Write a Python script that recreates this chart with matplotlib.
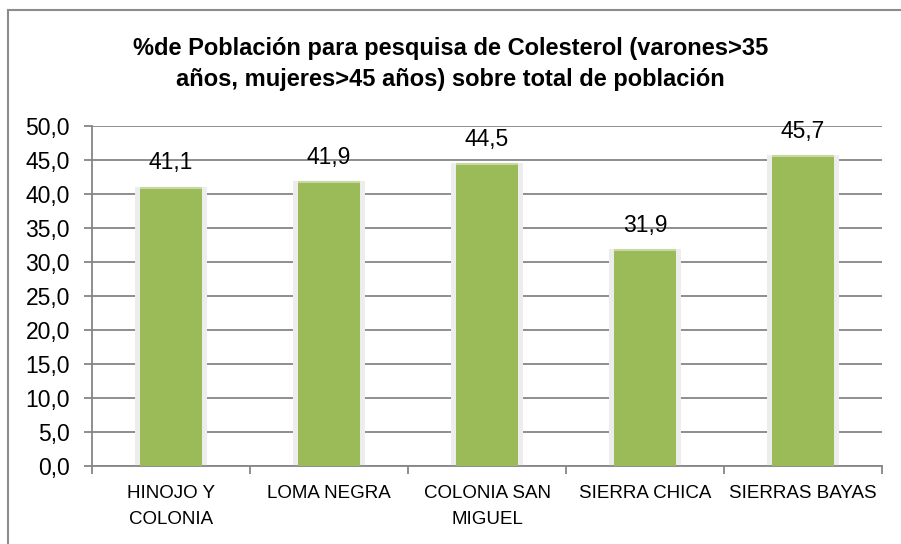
import matplotlib
matplotlib.use("Agg")
import matplotlib.pyplot as plt
from matplotlib.lines import Line2D

categories = ["HINOJO Y\nCOLONIA", "LOMA NEGRA", "COLONIA SAN\nMIGUEL", "SIERRA CHICA", "SIERRAS BAYAS"]
values = [41.1, 41.9, 44.5, 31.9, 45.7]
value_labels = ["41,1", "41,9", "44,5", "31,9", "45,7"]
yticks = [0, 5, 10, 15, 20, 25, 30, 35, 40, 45, 50]
ytick_labels = ["0,0", "5,0", "10,0", "15,0", "20,0", "25,0", "30,0", "35,0", "40,0", "45,0", "50,0"]
title = "%de Población para pesquisa de Colesterol (varones>35\naños, mujeres>45 años) sobre total de población"

plt.rcParams['font.family'] = ['Liberation Sans', 'DejaVu Sans']

W, H = 901, 544
fig = plt.figure(figsize=(W / 100, H / 100), dpi=100)
ax = fig.add_axes([92 / W, 1 - 466 / H, (882 - 92) / W, (466 - 126) / H])

grid_c = "#868686"
bar_c = "#9BBB59"
x = list(range(len(categories)))

# glow behind bars
ax.bar(x, values, width=0.45, color="#ededed", zorder=2)
ax.bar(x, values, width=0.39, color=bar_c, zorder=3, edgecolor="none")
# lighter top edge
for xi, v in zip(x, values):
    ax.plot([xi - 0.195, xi + 0.195], [v - 0.15, v - 0.15], color="#c5d9a0", lw=1.5, zorder=4,
            solid_capstyle="butt")

for xi, v, lab in zip(x, values, value_labels):
    ax.annotate(lab, (xi, v), xytext=(0, 9), textcoords="offset points",
                ha="center", va="bottom", fontsize=16.5, color="black")

ax.set_xlim(-0.5, len(categories) - 0.5)
ax.set_ylim(0, 50)
ax.set_yticks(yticks)
ax.set_yticklabels(ytick_labels, fontsize=16.5)
ax.yaxis.grid(True, color=grid_c, lw=1.3, zorder=1)
ax.set_axisbelow(True)

ax.set_xticks(x)
ax.set_xticklabels(categories, fontsize=13.5, linespacing=1.65, va="top")
ax.tick_params(axis="x", length=0, pad=14)
ax.tick_params(axis="y", length=6, width=1.3, color=grid_c, pad=10)
# minor ticks at category boundaries
ax.set_xticks([i - 0.5 for i in range(len(categories) + 1)], minor=True)
ax.tick_params(axis="x", which="minor", length=6, width=1.3, color=grid_c)

for s in ["top", "right"]:
    ax.spines[s].set_visible(False)
for s in ["left", "bottom"]:
    ax.spines[s].set_color(grid_c)
    ax.spines[s].set_linewidth(1.3)

fig.text(0.5, 1 - 64 / H, title, ha="center", va="center", fontsize=17, fontweight="bold",
         linespacing=1.45)

# outer chart border
fig.add_artist(Line2D([8 / W, 8 / W], [0, 1 - 10 / H], color="#8c8c8c", lw=1.5))
fig.add_artist(Line2D([8 / W, 1], [1 - 10 / H, 1 - 10 / H], color="#8c8c8c", lw=1.5))

fig.savefig("out.png", dpi=100)
